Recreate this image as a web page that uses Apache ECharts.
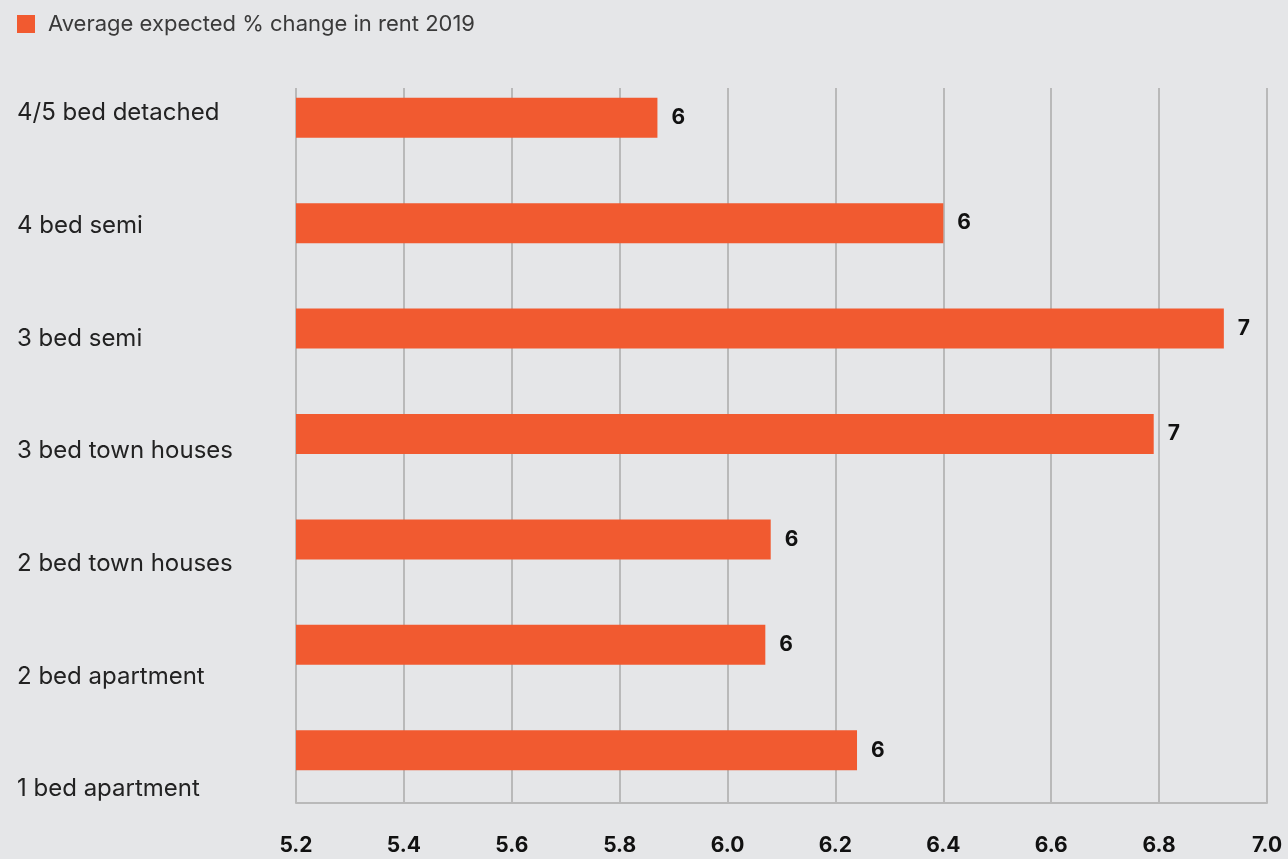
<!DOCTYPE html>
<html>
<head>
<meta charset="utf-8">
<script src="https://cdn.jsdelivr.net/npm/echarts@6/dist/echarts.min.js"></script>
<style>
  html, body { margin: 0; padding: 0; background: #e5e6e8; }
  #chart { width: 1288px; height: 859px; }
</style>
</head>
<body>
<div id="chart"></div>
<script>
// Property types, top to bottom
const categories = [
  '4/5 bed detached',
  '4 bed semi',
  '3 bed semi',
  '3 bed town houses',
  '2 bed town houses',
  '2 bed apartment',
  '1 bed apartment'
];
// Average expected % change in rent, 2019
const rentChange = [5.87, 6.40, 6.92, 6.79, 6.08, 6.07, 6.24];
const seriesName = 'Average expected % change in rent 2019';

const FONT = 'Inter, Roboto, "Liberation Sans", sans-serif';
const ORANGE = '#f15a30';
const GRID_GREY = '#b9b9b9';

const chart = echarts.init(document.getElementById('chart'));
chart.setOption({
  backgroundColor: '#e5e6e8',
  animation: false,
  legend: {
    left: 12, top: 8,
    icon: 'rect', itemWidth: 18, itemHeight: 18,
    textStyle: { fontFamily: FONT, fontSize: 22, color: '#3a3a3a', padding: [0, 0, 0, 8] },
    data: [seriesName]
  },
  grid: [
    // bars + value axis
    { left: 296, right: 21, top: 65, bottom: 56 },
    // vertical gridlines
    { left: 296, right: 21, top: 88, bottom: 56 },
    // category labels
    { left: 296, right: 21, top: 113, bottom: 70 }
  ],
  xAxis: [
    {
      gridIndex: 0, type: 'value', min: 5.2, max: 7.0, interval: 0.2,
      splitLine: { show: false },
      axisTick: { show: false },
      axisLine: { show: true, lineStyle: { color: GRID_GREY, width: 2 } },
      axisLabel: {
        margin: 32, fontFamily: FONT, fontSize: 21, fontWeight: 'bold', color: '#111',
        formatter: v => v.toFixed(1)
      }
    },
    {
      gridIndex: 1, type: 'value', min: 5.2, max: 7.0, interval: 0.2,
      splitLine: { show: true, showMinLine: true, showMaxLine: true, lineStyle: { color: GRID_GREY, width: 2 } },
      axisTick: { show: false }, axisLine: { show: false }, axisLabel: { show: false }
    },
    { gridIndex: 2, type: 'value', show: false }
  ],
  yAxis: [
    {
      gridIndex: 0, type: 'category', data: categories, inverse: true,
      axisLine: { show: false }, axisTick: { show: false }, axisLabel: { show: false }
    },
    { gridIndex: 1, type: 'value', show: false },
    {
      gridIndex: 2, type: 'category', data: categories, inverse: true, boundaryGap: false,
      axisLine: { show: false }, axisTick: { show: false }, splitLine: { show: false },
      axisLabel: {
        align: 'left', margin: 279,
        fontFamily: FONT, fontSize: 24, color: '#222'
      }
    }
  ],
  series: [{
    name: seriesName,
    type: 'bar',
    xAxisIndex: 0, yAxisIndex: 0,
    data: rentChange,
    barWidth: 40,
    itemStyle: { color: ORANGE },
    label: {
      show: true, position: 'right', distance: 14,
      fontFamily: FONT, fontSize: 21, fontWeight: 'bold', color: '#111',
      formatter: p => String(Math.round(p.value))
    },
    z: 3
  }]
});
</script>
</body>
</html>
